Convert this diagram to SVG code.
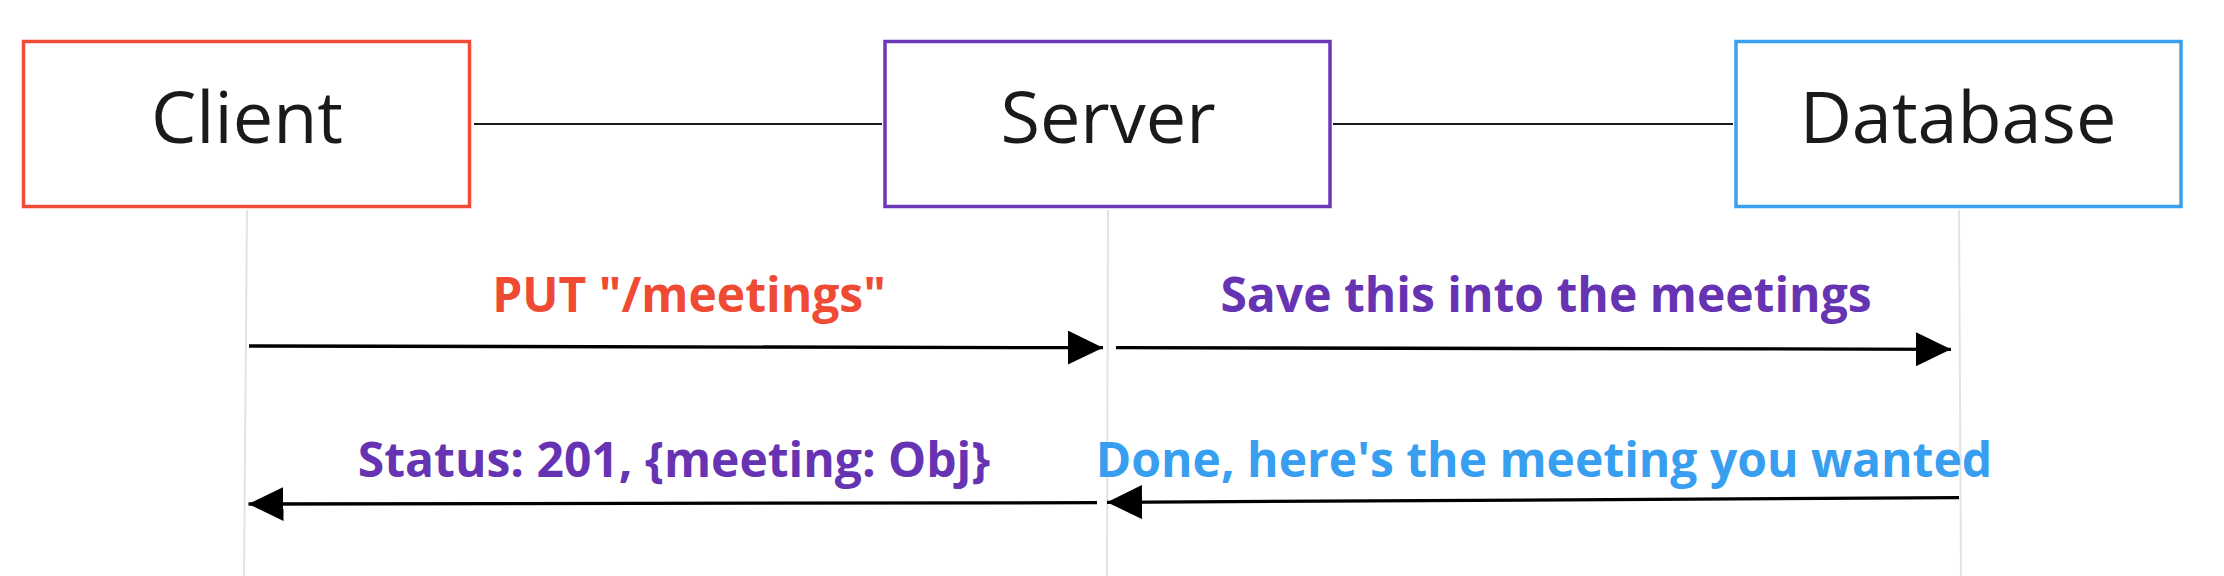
<svg xmlns="http://www.w3.org/2000/svg" width="2224" height="576" viewBox="0 0 2224 576">
<style>
.box{fill:#ffffff;stroke-width:3.5}
.title{font-family:"Open Sans","Noto Sans",sans-serif;font-size:72px;fill:#1a1a1a;text-anchor:middle}
.lbl{font-family:"Open Sans","Noto Sans",sans-serif;font-weight:bold;font-size:48px;text-anchor:middle}
.life{stroke:#e3e3e3;stroke-width:2;fill:none}
.link{stroke:#1a1a1a;stroke-width:2;fill:none}
.msg{stroke:#000000;stroke-width:3.3;fill:none;marker-end:url(#ah)}
</style>
<defs>
<marker id="ah" markerUnits="userSpaceOnUse" viewBox="0 0 35 34" refX="35" refY="17" markerWidth="35" markerHeight="34" orient="auto">
<path d="M0,0 L35,17 L0,34 z" fill="#000000"/>
</marker>
</defs>
<rect width="2224" height="576" fill="#ffffff"/>
<g id="connectors">
<line class="life" x1="247" y1="210" x2="244" y2="576"/>
<line class="life" x1="1108" y1="210" x2="1107" y2="576"/>
<line class="life" x1="1959" y1="210" x2="1961" y2="576"/>
<line class="link" x1="474" y1="124" x2="882" y2="124"/>
<line class="link" x1="1333" y1="124" x2="1733" y2="124"/>
<line class="msg" x1="249" y1="346" x2="1103" y2="347.7"/>
<line class="msg" x1="1116" y1="347.7" x2="1951" y2="349.3"/>
<line class="msg" x1="1097" y1="502.7" x2="248.5" y2="504"/>
<line class="msg" x1="1959" y1="497.7" x2="1107" y2="502.3"/>
<text class="lbl" x="689" y="311.7" fill="#EF4A33">PUT "/meetings"</text>
<text class="lbl" x="1546" y="311.7" fill="#6634B3">Save this into the meetings</text>
<text class="lbl" x="674" y="476.7" fill="#6634B3">Status: 201, {meeting: Obj}</text>
<text class="lbl" x="1544" y="476.7" fill="#379EF0">Done, here's the meeting you wanted</text>
</g>
<g id="client">
<rect class="box" x="23.5" y="41.5" width="446" height="165" stroke="#F24B35"/>
<text class="title" x="247" y="143">Client</text>
</g>
<g id="server">
<rect class="box" x="885" y="41.5" width="445" height="165" stroke="#6B37B6"/>
<text class="title" x="1108" y="143">Server</text>
</g>
<g id="database">
<rect class="box" x="1736" y="41.5" width="445" height="165" stroke="#3AA0EE"/>
<text class="title" x="1958" y="143">Database</text>
</g>
</svg>
